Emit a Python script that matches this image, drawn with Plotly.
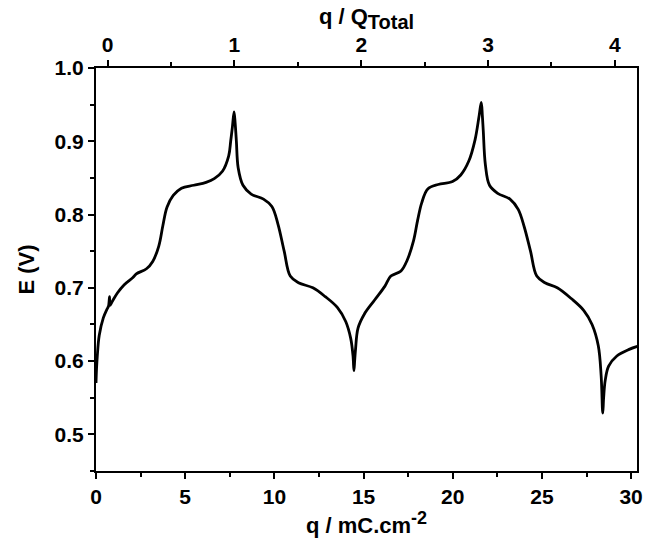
import plotly.graph_objects as go

# charge density q (mC/cm^2) and potential E (V)
q = [0.00, 0.03, 0.07, 0.18, 0.41, 0.60, 0.70, 0.76, 0.78, 0.90, 1.20, 1.57, 2.07, 2.26, 2.83, 3.18,
     3.52, 3.75, 3.98, 4.33, 4.79, 5.48, 6.17, 6.63, 7.09, 7.44, 7.55, 7.65, 7.74, 7.80, 7.87,
     7.97, 8.24, 8.70, 9.39, 9.86, 10.20, 10.55, 10.89, 11.35, 12.16, 12.85, 13.54, 14.00,
     14.28, 14.41, 14.46, 14.50, 14.55, 14.69, 15.04, 15.61, 16.19, 16.53, 17.10, 17.45,
     17.80, 18.03, 18.26, 18.60, 19.18, 19.99, 20.45, 20.90, 21.25, 21.48, 21.60, 21.66,
     21.71, 21.83, 22.06, 22.52, 23.21, 23.67, 24.01, 24.36, 24.71, 25.17, 25.86, 26.66,
     27.35, 27.81, 28.16, 28.32, 28.41, 28.46, 28.55, 28.74, 29.20, 29.89, 30.35]
E = [0.570, 0.590, 0.606, 0.635, 0.659, 0.670, 0.675, 0.688, 0.676, 0.681, 0.693, 0.704, 0.714, 0.719, 0.726, 0.736,
     0.757, 0.785, 0.810, 0.826, 0.836, 0.840, 0.844, 0.849, 0.859, 0.880, 0.900, 0.920, 0.940, 0.925, 0.900,
     0.864, 0.840, 0.828, 0.821, 0.811, 0.787, 0.750, 0.716, 0.707, 0.700, 0.688, 0.673, 0.654,
     0.631, 0.607, 0.587, 0.600, 0.616, 0.645, 0.664, 0.683, 0.702, 0.716, 0.723, 0.738,
     0.764, 0.792, 0.816, 0.835, 0.841, 0.845, 0.854, 0.873, 0.902, 0.935, 0.953, 0.935,
     0.915, 0.868, 0.840, 0.829, 0.821, 0.807, 0.783, 0.750, 0.716, 0.707, 0.700, 0.685,
     0.669, 0.650, 0.621, 0.580, 0.529, 0.550, 0.574, 0.593, 0.607, 0.616, 0.620]

Q_TOTAL = 7.11
Q_OFFSET = 0.65
x_range = [0, 30.33]
y_range = [0.45, 1.0]
top_ticks = [0, 1, 2, 3, 4]

qn = [(v - Q_OFFSET) / Q_TOTAL for v in q]

font_family = "Liberation Sans Narrow, Arial Narrow, Liberation Sans, Arial, sans-serif"
tick_font = dict(family=font_family, size=21, color="black", weight="bold")
title_font = dict(family=font_family, size=22, color="black", weight="bold")

fig = go.Figure()
fig.add_trace(go.Scatter(x=q, y=E, mode="lines", line=dict(color="black", width=2.8),
                         line_shape="spline", hoverinfo="skip", showlegend=False))
fig.add_trace(go.Scatter(x=qn, y=E, xaxis="x2", mode="lines", line=dict(width=0),
                         opacity=0, hoverinfo="skip", showlegend=False))

axis_common = dict(showline=True, linecolor="black", linewidth=2, ticks="outside",
                   tickcolor="black", tickwidth=1.5, ticklen=6, showgrid=False, zeroline=False,
                   tickfont=tick_font)

fig.update_layout(
    width=651, height=547,
    margin=dict(l=96, r=8, t=68, b=76),
    paper_bgcolor="white", plot_bgcolor="white",
    xaxis=dict(range=x_range, dtick=5, tick0=0, mirror=False,
               minor=dict(dtick=2.5, ticklen=4, tickcolor="black", ticks="outside"),
               title=dict(text="q / mC.cm<sup><span style='font-size:18px'>-2</span></sup>",
                          standoff=10, font=title_font),
               **axis_common),
    xaxis2=dict(range=[(x_range[0] - Q_OFFSET) / Q_TOTAL, (x_range[1] - Q_OFFSET) / Q_TOTAL],
                overlaying="x", side="top", tickvals=top_ticks,
                minor=dict(dtick=0.5, tick0=0, ticklen=4, tickcolor="black", ticks="outside"),
                title=dict(text="q / Q<sub><span style='font-size:20px'>Total</span></sub>",
                           standoff=2, font=title_font),
                **axis_common),
    yaxis=dict(range=y_range, dtick=0.1, tick0=0.5, tickformat=".1f", mirror=True,
               minor=dict(dtick=0.05, ticklen=4, tickcolor="black", ticks="outside"),
               title=dict(text="E (V)", standoff=14, font=title_font),
               **axis_common),
)

fig.write_html("out.html")
